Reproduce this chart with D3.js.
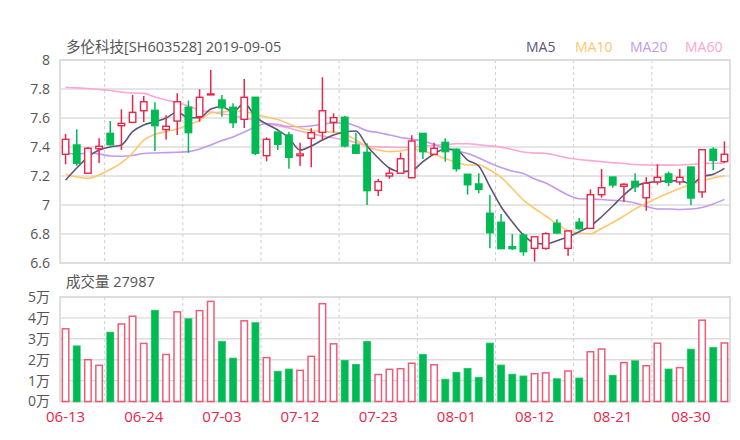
<!DOCTYPE html>
<html>
<head>
<meta charset="utf-8">
<script src="https://cdn.jsdelivr.net/npm/d3@7"></script>
<style>
  html, body { margin: 0; padding: 0; background: #fff; }
  text { font-family: "Open Sans", "Noto Sans CJK SC", sans-serif; }
  .domain { display: none; }
  .tick line { display: none; }
</style>
</head>
<body>
<svg id="chart" width="740" height="440"></svg>
<script>
// Trading days shown on the chart
var dates = ["06-13","06-14","06-17","06-18","06-19","06-20","06-21","06-24","06-25","06-26","06-27","06-28",
  "07-01","07-02","07-03","07-04","07-05","07-08","07-09","07-10","07-11","07-12","07-15","07-16","07-17","07-18","07-19",
  "07-22","07-23","07-24","07-25","07-26","07-29","07-30","07-31","08-01","08-02","08-05","08-06","08-07","08-08","08-09",
  "08-12","08-13","08-14","08-15","08-16","08-19","08-20","08-21","08-22","08-23","08-26","08-27","08-28","08-29","08-30",
  "09-02","09-03","09-04"];

var opens = [7.35,7.414,7.219,7.388,7.494,7.547,7.57,7.65,7.653,7.52,7.579,7.674,7.609,7.759,7.724,7.674,7.591,7.743,7.34,7.503,
  7.483,7.34,7.46,7.501,7.57,7.605,7.414,7.363,7.101,7.2,7.219,7.188,7.494,7.35,7.432,7.384,7.212,7.145,6.943,6.881,
  6.712,6.793,6.701,6.701,6.874,6.701,6.881,6.839,7.071,7.193,7.129,7.163,7.05,7.159,7.214,7.159,7.262,7.09,7.384,7.299];
var closes = [7.453,7.288,7.391,7.405,7.416,7.563,7.639,7.712,7.547,7.543,7.712,7.499,7.743,7.766,7.671,7.568,7.743,7.357,7.453,7.419,
  7.329,7.352,7.499,7.65,7.602,7.407,7.357,7.099,7.161,7.219,7.319,7.441,7.368,7.391,7.368,7.25,7.14,7.108,6.809,6.699,
  6.699,6.678,6.781,6.802,6.807,6.821,6.837,7.071,7.119,7.138,7.143,7.126,7.15,7.191,7.157,7.191,7.048,7.381,7.308,7.35];
var highs = [7.49,7.522,7.40,7.46,7.58,7.66,7.76,7.752,7.708,7.619,7.77,7.72,7.798,7.931,7.759,7.701,7.869,7.743,7.467,7.503,
  7.505,7.43,7.529,7.881,7.632,7.614,7.499,7.426,7.179,7.255,7.361,7.481,7.494,7.43,7.46,7.391,7.212,7.219,7.069,6.938,
  6.8,6.805,6.781,6.812,6.901,6.826,6.91,7.108,7.248,7.193,7.15,7.219,7.191,7.281,7.23,7.248,7.262,7.381,7.398,7.439];
var lows = [7.28,7.271,7.219,7.29,7.41,7.38,7.57,7.572,7.372,7.45,7.483,7.36,7.574,7.759,7.609,7.531,7.531,7.345,7.301,7.379,
  7.25,7.269,7.26,7.448,7.499,7.398,7.352,7.0,7.062,7.181,7.219,7.184,7.317,7.345,7.299,7.23,7.071,7.081,6.701,6.699,
  6.69,6.65,6.609,6.692,6.8,6.65,6.83,6.839,7.05,7.119,7.021,7.09,6.961,7.14,7.131,7.14,7.0,7.05,7.241,7.29];

var ma5 = [7.172,7.255,7.331,7.379,7.40,7.414,7.506,7.552,7.574,7.6,7.641,7.602,7.602,7.662,7.678,7.643,7.701,7.609,7.559,7.517,
  7.462,7.379,7.407,7.448,7.483,7.503,7.51,7.407,7.324,7.255,7.23,7.237,7.299,7.352,7.386,7.379,7.31,7.269,7.126,6.988,
  6.885,6.793,6.738,6.731,6.754,6.781,6.816,6.855,6.919,6.993,7.069,7.131,7.152,7.161,7.166,7.168,7.145,7.195,7.212,7.253];
var ma10 = [7.212,7.193,7.184,7.207,7.245,7.29,7.359,7.448,7.486,7.507,7.524,7.552,7.583,7.634,7.641,7.648,7.645,7.624,7.607,7.59,
  7.559,7.531,7.514,7.507,7.503,7.49,7.448,7.402,7.379,7.368,7.372,7.386,7.374,7.348,7.321,7.293,7.276,7.276,7.241,7.19,
  7.114,7.034,6.976,6.924,6.869,6.824,6.807,6.802,6.838,6.879,6.924,6.972,7.01,7.048,7.083,7.114,7.141,7.166,7.186,7.202];
var ma20 = [7.357,7.352,7.359,7.352,7.338,7.336,7.341,7.355,7.359,7.361,7.364,7.368,7.386,7.414,7.445,7.469,7.503,7.538,7.562,7.555,
  7.541,7.54,7.545,7.557,7.566,7.566,7.545,7.512,7.5,7.483,7.466,7.455,7.441,7.417,7.39,7.372,7.355,7.324,7.29,7.259,
  7.234,7.217,7.179,7.152,7.11,7.069,7.043,7.041,7.038,7.032,7.028,7.014,6.99,6.972,6.972,6.969,6.972,6.983,7.007,7.039];
var ma60 = [7.812,7.808,7.803,7.797,7.79,7.779,7.772,7.77,7.745,7.724,7.707,7.683,7.655,7.641,7.628,7.617,7.6,7.583,7.562,7.545,
  7.531,7.51,7.493,7.476,7.462,7.45,7.431,7.407,7.401,7.398,7.397,7.397,7.405,7.412,7.417,7.422,7.422,7.416,7.408,7.399,
  7.383,7.366,7.359,7.356,7.341,7.324,7.314,7.306,7.299,7.292,7.287,7.279,7.276,7.275,7.275,7.276,7.279,7.286,7.288,7.288];

var volumes = [34800,26500,20000,17300,33000,37100,40800,27800,43500,22500,42900,39500,43500,47900,28600,20600,38600,37600,21000,14300,
  15400,14900,21600,46800,27600,19500,17600,28600,12900,15400,15700,18300,22400,17600,10500,13800,15700,11400,27800,17300,
  12900,12100,13300,13700,10800,14600,11100,23800,25100,12400,18600,19400,17100,27900,15400,16200,24900,38900,25700,27987];

var priceTicks = [6.6,6.8,7,7.2,7.4,7.6,7.8,8];
var volumeTicks = [0,10000,20000,30000,40000,50000];
var labelDates = ["06-13","06-24","07-03","07-12","07-23","08-01","08-12","08-21","08-30"];
var gridDates = ["06-19","06-28","07-09","07-18","07-29","08-07","08-16","08-27"];

var RED = "#e8274b", GREEN = "#00ba53", GRID = "#dcdcdc";
var svg = d3.select("#chart");

var x = d3.scaleBand().domain(dates).range([60, 730]).paddingInner(0.42).paddingOuter(0.21);
var yPrice = d3.scaleLinear().domain([6.6, 8]).range([263, 60]);
var yVol = d3.scaleLinear().domain([0, 50000]).range([401.5, 297]);
var center = d => x(d) + x.bandwidth() / 2;
var gridX = d => x(d) - (x.step() - x.bandwidth()) / 2;

// Frames and grid lines for both panels
function drawPanel(y, ticks) {
  svg.append("g").selectAll("line").data(ticks).join("line")
    .attr("x1", 60).attr("x2", 730)
    .attr("y1", d => y(d)).attr("y2", d => y(d))
    .attr("stroke", GRID).attr("stroke-width", 1.4);
  svg.append("g").selectAll("line").data(gridDates).join("line")
    .attr("x1", gridX).attr("x2", gridX)
    .attr("y1", y.range()[1]).attr("y2", y.range()[0])
    .attr("stroke", "#cfcfcf").attr("stroke-dasharray", "3,3");
  svg.append("rect")
    .attr("x", 60).attr("y", y.range()[1])
    .attr("width", 670).attr("height", y.range()[0] - y.range()[1])
    .attr("fill", "none").attr("stroke", GRID).attr("stroke-width", 1.8);
}
drawPanel(yPrice, priceTicks);
drawPanel(yVol, volumeTicks);

// Axes
var priceAxis = svg.append("g").attr("transform", "translate(50,0)")
  .call(d3.axisLeft(yPrice).tickValues(priceTicks).tickSize(0).tickFormat(d => String(d)));
var volAxis = svg.append("g").attr("transform", "translate(50,0)")
  .call(d3.axisLeft(yVol).tickValues(volumeTicks).tickSize(0).tickFormat(d => (d / 10000) + "万"));
var dateAxis = svg.append("g").attr("transform", "translate(0,403)")
  .call(d3.axisBottom(x).tickValues(labelDates).tickSize(0).tickPadding(8));
priceAxis.selectAll("text").attr("x", 0).attr("font-size", 14).attr("fill", "#555");
volAxis.selectAll("text").attr("x", 0).attr("font-size", 14).attr("fill", "#555");
dateAxis.selectAll("text").attr("font-size", 15).attr("fill", RED);

// Moving averages go under the candles
var lineGen = d3.line().x((d, i) => center(dates[i])).y(d => yPrice(d)).curve(d3.curveMonotoneX);
var maSeries = [
  { name: "MA5", values: ma5, color: "#5c5778", labelX: 526 },
  { name: "MA10", values: ma10, color: "#fdc76d", labelX: 575 },
  { name: "MA20", values: ma20, color: "#c39aec", labelX: 630 },
  { name: "MA60", values: ma60, color: "#fda6d2", labelX: 685 }
];
maSeries.slice().reverse().forEach(s => {
  svg.append("path").attr("d", lineGen(s.values))
    .attr("fill", "none").attr("stroke", s.color).attr("stroke-width", 1.6);
});
svg.append("g").selectAll("text").data(maSeries).join("text")
  .attr("x", d => d.labelX).attr("y", 52)
  .attr("font-size", 14).attr("fill", d => d.color).text(d => d.name);

// Candles
var candles = svg.append("g").selectAll("g").data(dates).join("g");
var isUp = (d, i) => closes[i] >= opens[i];
candles.append("line")
  .attr("x1", center).attr("x2", center)
  .attr("y1", (d, i) => yPrice(highs[i])).attr("y2", (d, i) => yPrice(lows[i]))
  .attr("stroke", (d, i) => isUp(d, i) ? RED : GREEN).attr("stroke-width", 1.5);
candles.append("rect")
  .attr("x", d => x(d)).attr("width", x.bandwidth())
  .attr("y", (d, i) => yPrice(Math.max(opens[i], closes[i])))
  .attr("height", (d, i) => Math.max(1, Math.abs(yPrice(opens[i]) - yPrice(closes[i]))))
  .attr("fill", (d, i) => isUp(d, i) ? "#fff" : GREEN)
  .attr("stroke", (d, i) => isUp(d, i) ? RED : GREEN).attr("stroke-width", 1.4);

// Volume bars
svg.append("g").selectAll("rect").data(dates).join("rect")
  .attr("x", d => x(d)).attr("width", x.bandwidth())
  .attr("y", (d, i) => yVol(volumes[i]))
  .attr("height", (d, i) => yVol(0) - yVol(volumes[i]))
  .attr("fill", (d, i) => isUp(d, i) ? "#fff" : GREEN)
  .attr("stroke", (d, i) => isUp(d, i) ? RED : GREEN).attr("stroke-width", 1.5)
  .attr("stroke-opacity", 0.75);

// Titles
svg.append("text").attr("x", 66).attr("y", 52).attr("font-size", 14.5).attr("fill", "#555")
  .text("多伦科技[SH603528] 2019-09-05");
svg.append("text").attr("x", 66).attr("y", 287).attr("font-size", 14.5).attr("fill", "#555")
  .text("成交量 27987");
</script>
</body>
</html>
